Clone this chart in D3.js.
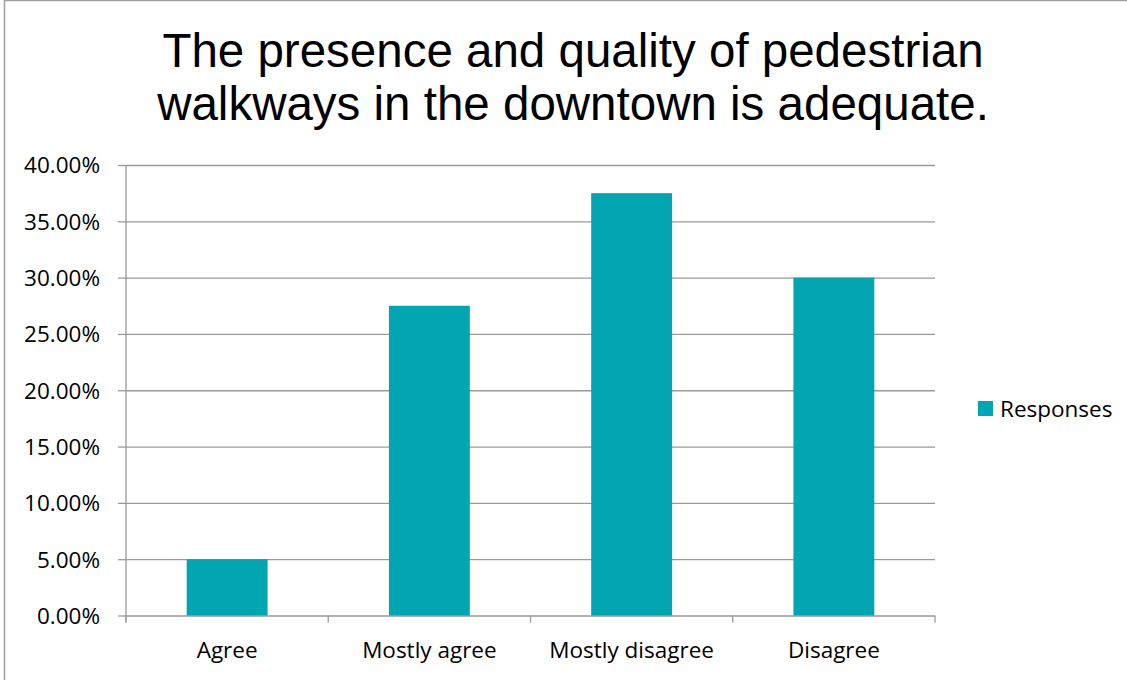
<!DOCTYPE html>
<html>
<head>
<meta charset="utf-8">
<script src="https://cdn.jsdelivr.net/npm/d3@7"></script>
<style>
  html, body { margin: 0; padding: 0; background: #fff; }
  svg { display: block; }
</style>
</head>
<body>
<svg id="chart" width="1127" height="680"></svg>
<script>
// Survey responses for the downtown walkway statement
const categories = ["Agree", "Mostly agree", "Mostly disagree", "Disagree"];
const responses = [0.05, 0.275, 0.375, 0.30];
const yTicks = [0, 0.05, 0.10, 0.15, 0.20, 0.25, 0.30, 0.35, 0.40];
const titleLines = ["The presence and quality of pedestrian", "walkways in the downtown is adequate."];
const seriesName = "Responses";

const svg = d3.select("#chart");
const W = 1127, H = 680;
const barColor = "#02A6B2";
const gridColor = "#9a9a9a";
const labelFont = "'Open Sans', Lato, sans-serif";
const labelSize = 22.5;

// outer frame
svg.append("rect")
  .attr("x", 4.5).attr("y", 0.5)
  .attr("width", W + 10).attr("height", H + 10)
  .attr("fill", "#fff").attr("stroke", "#a0a0a0").attr("stroke-width", 1.5);

// title
const title = svg.append("text")
  .attr("text-anchor", "middle")
  .attr("font-family", "'Liberation Sans', Arial, sans-serif")
  .attr("font-size", 47.5)
  .attr("fill", "#000");
titleLines.forEach((t, i) => {
  title.append("tspan").attr("x", 573).attr("y", 67 + i * 53).text(t);
});

const plot = { left: 126, right: 935, top: 165, bottom: 615.5 };

const x = d3.scaleBand()
  .domain(categories)
  .range([plot.left, plot.right])
  .paddingInner(0.6)
  .paddingOuter(0.3);

const xOuter = d3.scaleBand()
  .domain(categories)
  .range([plot.left, plot.right]);

const y = d3.scaleLinear()
  .domain([0, 0.40])
  .range([plot.bottom, plot.top]);

// horizontal gridlines with short left ticks
const yAxis = d3.axisLeft(y)
  .tickValues(yTicks)
  .tickFormat(d3.format(".2%"))
  .tickSize(8)
  .tickPadding(18);

const gy = svg.append("g")
  .attr("transform", `translate(${plot.left},0)`)
  .call(yAxis);
gy.select(".domain").remove();
gy.selectAll(".tick line").attr("stroke", gridColor).attr("stroke-width", 1.3);
gy.selectAll(".tick").append("line")
  .attr("x1", 0).attr("x2", plot.right - plot.left)
  .attr("stroke", gridColor).attr("stroke-width", 1.3);
gy.selectAll(".tick text")
  .attr("font-family", labelFont)
  .attr("font-size", labelSize)
  .attr("fill", "#000")
  .attr("dy", "0.35em");

// bars
svg.append("g").selectAll("rect")
  .data(categories.map((c, i) => ({ c, v: responses[i] })))
  .join("rect")
  .attr("x", d => x(d.c))
  .attr("width", x.bandwidth())
  .attr("y", d => y(d.v))
  .attr("height", d => y(0) - y(d.v))
  .attr("fill", barColor);

// vertical axis line
svg.append("line")
  .attr("x1", plot.left).attr("x2", plot.left)
  .attr("y1", plot.top).attr("y2", plot.bottom + 7)
  .attr("stroke", gridColor).attr("stroke-width", 1.3);

// category axis: boundary ticks and labels
const boundaries = categories.map(c => xOuter(c)).concat([plot.right]);
svg.append("g").selectAll("line")
  .data(boundaries)
  .join("line")
  .attr("x1", d => d).attr("x2", d => d)
  .attr("y1", plot.bottom).attr("y2", plot.bottom + 7)
  .attr("stroke", gridColor).attr("stroke-width", 1.3);

svg.append("g").selectAll("text")
  .data(categories)
  .join("text")
  .attr("x", d => xOuter(d) + xOuter.bandwidth() / 2)
  .attr("y", 658)
  .attr("text-anchor", "middle")
  .attr("font-family", labelFont)
  .attr("font-size", labelSize)
  .attr("fill", "#000")
  .text(d => d);

// legend
const lg = svg.append("g").attr("transform", "translate(978,401)");
lg.append("rect").attr("width", 15).attr("height", 15).attr("fill", barColor);
lg.append("text")
  .attr("x", 22).attr("y", 15.5)
  .attr("font-family", labelFont)
  .attr("font-size", labelSize)
  .attr("fill", "#000")
  .text(seriesName);
</script>
</body>
</html>
